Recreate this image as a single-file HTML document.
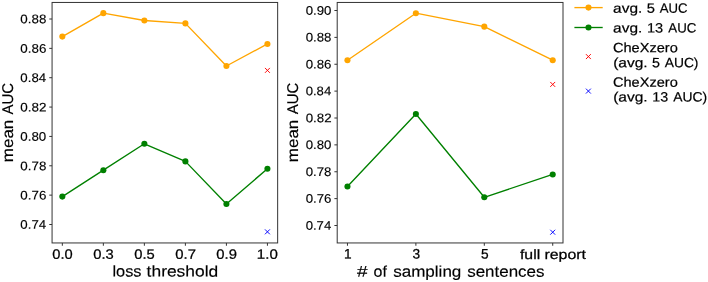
<!DOCTYPE html>
<html>
<head>
<meta charset="utf-8">
<title>mean AUC vs loss threshold and number of sampling sentences</title>
<style>
html, body { margin: 0; padding: 0; background: #ffffff; }
body { width: 708px; height: 282px; overflow: hidden; font-family: "Liberation Sans", sans-serif; }
svg { display: block; will-change: transform; }
svg text { stroke: #000000; text-rendering: geometricPrecision; font-family: "Liberation Sans", sans-serif; stroke: #000000; }
</style>
</head>
<body>
<svg width="708" height="282" viewBox="0 0 708 282">
<rect x="0" y="0" width="708" height="282" fill="#ffffff"/>
<rect x="52.07" y="2.45" width="225.58" height="240.5" fill="none" stroke="#333333" stroke-width="1"/>
<line x1="49.27" x2="52.07" y1="19" y2="19" stroke="#333333" stroke-width="1"/>
<text x="20.37" y="23.35" font-size="12.5" stroke-width="0.15" textLength="25.99" lengthAdjust="spacingAndGlyphs" fill="#000000" transform="rotate(0.03 20.37 23.35)">0.88</text>
<line x1="49.27" x2="52.07" y1="48.36" y2="48.36" stroke="#333333" stroke-width="1"/>
<text x="20.37" y="52.71" font-size="12.5" stroke-width="0.15" textLength="25.99" lengthAdjust="spacingAndGlyphs" fill="#000000" transform="rotate(0.03 20.37 52.71)">0.86</text>
<line x1="49.27" x2="52.07" y1="77.71" y2="77.71" stroke="#333333" stroke-width="1"/>
<text x="20.37" y="82.06" font-size="12.5" stroke-width="0.15" textLength="25.78" lengthAdjust="spacingAndGlyphs" fill="#000000" transform="rotate(0.03 20.37 82.06)">0.84</text>
<line x1="49.27" x2="52.07" y1="107.07" y2="107.07" stroke="#333333" stroke-width="1"/>
<text x="20.36" y="111.42" font-size="12.5" stroke-width="0.15" textLength="26.13" lengthAdjust="spacingAndGlyphs" fill="#000000" transform="rotate(0.03 20.36 111.42)">0.82</text>
<line x1="49.27" x2="52.07" y1="136.43" y2="136.43" stroke="#333333" stroke-width="1"/>
<text x="20.37" y="140.78" font-size="12.5" stroke-width="0.15" textLength="25.92" lengthAdjust="spacingAndGlyphs" fill="#000000" transform="rotate(0.03 20.37 140.78)">0.80</text>
<line x1="49.27" x2="52.07" y1="165.79" y2="165.79" stroke="#333333" stroke-width="1"/>
<text x="20.37" y="170.14" font-size="12.5" stroke-width="0.15" textLength="25.99" lengthAdjust="spacingAndGlyphs" fill="#000000" transform="rotate(0.03 20.37 170.14)">0.78</text>
<line x1="49.27" x2="52.07" y1="195.14" y2="195.14" stroke="#333333" stroke-width="1"/>
<text x="20.37" y="199.49" font-size="12.5" stroke-width="0.15" textLength="25.99" lengthAdjust="spacingAndGlyphs" fill="#000000" transform="rotate(0.03 20.37 199.49)">0.76</text>
<line x1="49.27" x2="52.07" y1="224.5" y2="224.5" stroke="#333333" stroke-width="1"/>
<text x="20.37" y="228.85" font-size="12.5" stroke-width="0.15" textLength="25.78" lengthAdjust="spacingAndGlyphs" fill="#000000" transform="rotate(0.03 20.37 228.85)">0.74</text>
<line x1="62.33" x2="62.33" y1="242.95" y2="245.75" stroke="#333333" stroke-width="1"/>
<text x="52.29" y="258.7" font-size="13.5" stroke-width="0.25" textLength="20.4" lengthAdjust="spacingAndGlyphs" fill="#000000" transform="rotate(0.03 52.29 258.7)">0.0</text>
<line x1="103.35" x2="103.35" y1="242.95" y2="245.75" stroke="#333333" stroke-width="1"/>
<text x="93.31" y="258.7" font-size="13.5" stroke-width="0.25" textLength="20.48" lengthAdjust="spacingAndGlyphs" fill="#000000" transform="rotate(0.03 93.31 258.7)">0.3</text>
<line x1="144.37" x2="144.37" y1="242.95" y2="245.75" stroke="#333333" stroke-width="1"/>
<text x="134.33" y="258.7" font-size="13.5" stroke-width="0.25" textLength="20.48" lengthAdjust="spacingAndGlyphs" fill="#000000" transform="rotate(0.03 134.33 258.7)">0.5</text>
<line x1="185.39" x2="185.39" y1="242.95" y2="245.75" stroke="#333333" stroke-width="1"/>
<text x="175.35" y="258.7" font-size="13.5" stroke-width="0.25" textLength="20.64" lengthAdjust="spacingAndGlyphs" fill="#000000" transform="rotate(0.03 175.35 258.7)">0.7</text>
<line x1="226.41" x2="226.41" y1="242.95" y2="245.75" stroke="#333333" stroke-width="1"/>
<text x="216.37" y="258.7" font-size="13.5" stroke-width="0.25" textLength="20.56" lengthAdjust="spacingAndGlyphs" fill="#000000" transform="rotate(0.03 216.37 258.7)">0.9</text>
<line x1="267.43" x2="267.43" y1="242.95" y2="245.75" stroke="#333333" stroke-width="1"/>
<text x="256.85" y="258.7" font-size="13.5" stroke-width="0.25" textLength="20.96" lengthAdjust="spacingAndGlyphs" fill="#000000" transform="rotate(0.03 256.85 258.7)">1.0</text>
<text x="112.44" y="276.6" font-size="15.6" stroke-width="0.15" textLength="29" lengthAdjust="spacingAndGlyphs" fill="#000000" transform="rotate(0.03 112.44 276.6)">loss</text>
<text x="146.64" y="276.6" font-size="15.6" stroke-width="0.15" textLength="71.59" lengthAdjust="spacingAndGlyphs" fill="#000000" transform="rotate(0.03 146.64 276.6)">threshold</text>
<text x="13.4" y="162.21" font-size="15.6" stroke-width="0.15" textLength="42.54" lengthAdjust="spacingAndGlyphs" fill="#000000" transform="rotate(-90 13.4 162.21)">mean</text>
<text x="13.4" y="114.4" font-size="15.6" stroke-width="0.15" textLength="31.54" lengthAdjust="spacingAndGlyphs" fill="#000000" transform="rotate(-90 13.4 114.4)">AUC</text>
<polyline points="62.33,36.61 103.35,13.13 144.37,20.47 185.39,23.4 226.41,65.97 267.43,43.95" fill="none" stroke="#ffa500" stroke-width="1.35" stroke-linejoin="round"/>
<circle cx="62.33" cy="36.61" r="3.05" fill="#ffa500"/>
<circle cx="103.35" cy="13.13" r="3.05" fill="#ffa500"/>
<circle cx="144.37" cy="20.47" r="3.05" fill="#ffa500"/>
<circle cx="185.39" cy="23.4" r="3.05" fill="#ffa500"/>
<circle cx="226.41" cy="65.97" r="3.05" fill="#ffa500"/>
<circle cx="267.43" cy="43.95" r="3.05" fill="#ffa500"/>
<polyline points="62.33,196.61 103.35,170.19 144.37,143.77 185.39,161.38 226.41,203.95 267.43,168.72" fill="none" stroke="#008000" stroke-width="1.35" stroke-linejoin="round"/>
<circle cx="62.33" cy="196.61" r="3.05" fill="#008000"/>
<circle cx="103.35" cy="170.19" r="3.05" fill="#008000"/>
<circle cx="144.37" cy="143.77" r="3.05" fill="#008000"/>
<circle cx="185.39" cy="161.38" r="3.05" fill="#008000"/>
<circle cx="226.41" cy="203.95" r="3.05" fill="#008000"/>
<circle cx="267.43" cy="168.72" r="3.05" fill="#008000"/>
<path d="M264.98 67.93L269.88 72.83M264.98 72.83L269.88 67.93" stroke="#ff0000" stroke-width="0.95" fill="none"/>
<path d="M264.98 229.39L269.88 234.29M264.98 234.29L269.88 229.39" stroke="#0000ff" stroke-width="0.95" fill="none"/>
<rect x="337.2" y="2.45" width="225.8" height="240.5" fill="none" stroke="#333333" stroke-width="1"/>
<line x1="334.4" x2="337.2" y1="10.5" y2="10.5" stroke="#333333" stroke-width="1"/>
<text x="305.67" y="14.7" font-size="12.5" stroke-width="0.15" textLength="25.71" lengthAdjust="spacingAndGlyphs" fill="#000000" transform="rotate(0.03 305.67 14.7)">0.90</text>
<line x1="334.4" x2="337.2" y1="37.38" y2="37.38" stroke="#333333" stroke-width="1"/>
<text x="305.67" y="41.58" font-size="12.5" stroke-width="0.15" textLength="25.78" lengthAdjust="spacingAndGlyphs" fill="#000000" transform="rotate(0.03 305.67 41.58)">0.88</text>
<line x1="334.4" x2="337.2" y1="64.25" y2="64.25" stroke="#333333" stroke-width="1"/>
<text x="305.67" y="68.45" font-size="12.5" stroke-width="0.15" textLength="25.78" lengthAdjust="spacingAndGlyphs" fill="#000000" transform="rotate(0.03 305.67 68.45)">0.86</text>
<line x1="334.4" x2="337.2" y1="91.12" y2="91.12" stroke="#333333" stroke-width="1"/>
<text x="305.67" y="95.32" font-size="12.5" stroke-width="0.15" textLength="25.57" lengthAdjust="spacingAndGlyphs" fill="#000000" transform="rotate(0.03 305.67 95.32)">0.84</text>
<line x1="334.4" x2="337.2" y1="118" y2="118" stroke="#333333" stroke-width="1"/>
<text x="305.67" y="122.2" font-size="12.5" stroke-width="0.15" textLength="25.92" lengthAdjust="spacingAndGlyphs" fill="#000000" transform="rotate(0.03 305.67 122.2)">0.82</text>
<line x1="334.4" x2="337.2" y1="144.87" y2="144.87" stroke="#333333" stroke-width="1"/>
<text x="305.67" y="149.07" font-size="12.5" stroke-width="0.15" textLength="25.71" lengthAdjust="spacingAndGlyphs" fill="#000000" transform="rotate(0.03 305.67 149.07)">0.80</text>
<line x1="334.4" x2="337.2" y1="171.75" y2="171.75" stroke="#333333" stroke-width="1"/>
<text x="305.67" y="175.95" font-size="12.5" stroke-width="0.15" textLength="25.78" lengthAdjust="spacingAndGlyphs" fill="#000000" transform="rotate(0.03 305.67 175.95)">0.78</text>
<line x1="334.4" x2="337.2" y1="198.62" y2="198.62" stroke="#333333" stroke-width="1"/>
<text x="305.67" y="202.82" font-size="12.5" stroke-width="0.15" textLength="25.78" lengthAdjust="spacingAndGlyphs" fill="#000000" transform="rotate(0.03 305.67 202.82)">0.76</text>
<line x1="334.4" x2="337.2" y1="225.5" y2="225.5" stroke="#333333" stroke-width="1"/>
<text x="305.67" y="229.7" font-size="12.5" stroke-width="0.15" textLength="25.57" lengthAdjust="spacingAndGlyphs" fill="#000000" transform="rotate(0.03 305.67 229.7)">0.74</text>
<line x1="347.46" x2="347.46" y1="242.95" y2="245.75" stroke="#333333" stroke-width="1"/>
<text x="347.86" y="258.55" font-size="13.7" text-anchor="middle" stroke-width="0.25" fill="#000000" transform="rotate(0.03 347.46 259)">1</text>
<line x1="415.88" x2="415.88" y1="242.95" y2="245.75" stroke="#333333" stroke-width="1"/>
<text x="416.28" y="258.55" font-size="13.7" text-anchor="middle" stroke-width="0.25" fill="#000000" transform="rotate(0.03 415.88 259)">3</text>
<line x1="484.3" x2="484.3" y1="242.95" y2="245.75" stroke="#333333" stroke-width="1"/>
<text x="484.7" y="258.55" font-size="13.7" text-anchor="middle" stroke-width="0.25" fill="#000000" transform="rotate(0.03 484.3 259)">5</text>
<line x1="552.72" x2="552.72" y1="242.95" y2="245.75" stroke="#333333" stroke-width="1"/>
<text x="519.96" y="258.9" font-size="13.5" stroke-width="0.25" textLength="20.22" lengthAdjust="spacingAndGlyphs" fill="#000000" transform="rotate(0.03 519.96 258.9)">full</text>
<text x="544.47" y="258.9" font-size="13.5" stroke-width="0.25" textLength="41.55" lengthAdjust="spacingAndGlyphs" fill="#000000" transform="rotate(0.03 544.47 258.9)">report</text>
<text x="357" y="276.7" font-size="15.6" stroke-width="0.15" textLength="10.61" lengthAdjust="spacingAndGlyphs" fill="#000000" transform="rotate(0.03 357 276.7)">#</text>
<text x="373.56" y="276.7" font-size="15.6" stroke-width="0.15" textLength="13.32" lengthAdjust="spacingAndGlyphs" fill="#000000" transform="rotate(0.03 373.56 276.7)">of</text>
<text x="393.17" y="276.7" font-size="15.6" stroke-width="0.15" textLength="68.18" lengthAdjust="spacingAndGlyphs" fill="#000000" transform="rotate(0.03 393.17 276.7)">sampling</text>
<text x="467.18" y="276.7" font-size="15.6" stroke-width="0.15" textLength="77.29" lengthAdjust="spacingAndGlyphs" fill="#000000" transform="rotate(0.03 467.18 276.7)">sentences</text>
<text x="298.35" y="162.21" font-size="15.6" stroke-width="0.15" textLength="42.54" lengthAdjust="spacingAndGlyphs" fill="#000000" transform="rotate(-90 298.35 162.21)">mean</text>
<text x="298.35" y="114.3" font-size="15.6" stroke-width="0.15" textLength="31.54" lengthAdjust="spacingAndGlyphs" fill="#000000" transform="rotate(-90 298.35 114.3)">AUC</text>
<polyline points="347.46,60.22 415.88,13.19 484.3,26.63 552.72,60.22" fill="none" stroke="#ffa500" stroke-width="1.35" stroke-linejoin="round"/>
<circle cx="347.46" cy="60.22" r="3.05" fill="#ffa500"/>
<circle cx="415.88" cy="13.19" r="3.05" fill="#ffa500"/>
<circle cx="484.3" cy="26.63" r="3.05" fill="#ffa500"/>
<circle cx="552.72" cy="60.22" r="3.05" fill="#ffa500"/>
<polyline points="347.46,186.53 415.88,113.97 484.3,197.28 552.72,174.44" fill="none" stroke="#008000" stroke-width="1.35" stroke-linejoin="round"/>
<circle cx="347.46" cy="186.53" r="3.05" fill="#008000"/>
<circle cx="415.88" cy="113.97" r="3.05" fill="#008000"/>
<circle cx="484.3" cy="197.28" r="3.05" fill="#008000"/>
<circle cx="552.72" cy="174.44" r="3.05" fill="#008000"/>
<path d="M550.27 81.96L555.17 86.86M550.27 86.86L555.17 81.96" stroke="#ff0000" stroke-width="0.95" fill="none"/>
<path d="M550.27 229.77L555.17 234.67M550.27 234.67L555.17 229.77" stroke="#0000ff" stroke-width="0.95" fill="none"/>
<line x1="574.4" x2="602.7" y1="7.6" y2="7.6" stroke="#ffa500" stroke-width="1.35"/>
<circle cx="588.5" cy="7.6" r="3.05" fill="#ffa500"/>
<text x="613.08" y="12.8" font-size="13.51" stroke-width="0.2" textLength="29.21" lengthAdjust="spacingAndGlyphs" fill="#000000" transform="rotate(0.03 613.08 12.8)">avg.</text>
<text x="646.81" y="12.8" font-size="13.51" stroke-width="0.2" textLength="8.2" lengthAdjust="spacingAndGlyphs" fill="#000000" transform="rotate(0.03 646.81 12.8)">5</text>
<text x="659.8" y="12.8" font-size="13.51" stroke-width="0.2" textLength="27.78" lengthAdjust="spacingAndGlyphs" fill="#000000" transform="rotate(0.03 659.8 12.8)">AUC</text>
<line x1="574.4" x2="602.7" y1="27.5" y2="27.5" stroke="#008000" stroke-width="1.35"/>
<circle cx="588.5" cy="27.5" r="3.05" fill="#008000"/>
<text x="613.08" y="32.6" font-size="13.51" stroke-width="0.2" textLength="29.21" lengthAdjust="spacingAndGlyphs" fill="#000000" transform="rotate(0.03 613.08 32.6)">avg.</text>
<text x="647.01" y="32.6" font-size="13.51" stroke-width="0.2" textLength="16.21" lengthAdjust="spacingAndGlyphs" fill="#000000" transform="rotate(0.03 647.01 32.6)">13</text>
<text x="668.3" y="32.6" font-size="13.51" stroke-width="0.2" textLength="28.08" lengthAdjust="spacingAndGlyphs" fill="#000000" transform="rotate(0.03 668.3 32.6)">AUC</text>
<path d="M585.95 54.15L590.85 59.05M585.95 59.05L590.85 54.15" stroke="#ff0000" stroke-width="0.95" fill="none"/>
<text x="612.97" y="52.3" font-size="13.51" stroke-width="0.2" textLength="64.84" lengthAdjust="spacingAndGlyphs" fill="#000000" transform="rotate(0.03 612.97 52.3)">CheXzero</text>
<text x="613.17" y="67.2" font-size="13.51" stroke-width="0.2" textLength="34.5" lengthAdjust="spacingAndGlyphs" fill="#000000" transform="rotate(0.03 613.17 67.2)">(avg.</text>
<text x="652.13" y="67.2" font-size="13.51" stroke-width="0.2" textLength="7.96" lengthAdjust="spacingAndGlyphs" fill="#000000" transform="rotate(0.03 652.13 67.2)">5</text>
<text x="664.7" y="67.2" font-size="13.51" stroke-width="0.2" textLength="33.79" lengthAdjust="spacingAndGlyphs" fill="#000000" transform="rotate(0.03 664.7 67.2)">AUC)</text>
<path d="M585.95 88.65L590.85 93.55M585.95 93.55L590.85 88.65" stroke="#0000ff" stroke-width="0.95" fill="none"/>
<text x="612.97" y="86.7" font-size="13.51" stroke-width="0.2" textLength="64.84" lengthAdjust="spacingAndGlyphs" fill="#000000" transform="rotate(0.03 612.97 86.7)">CheXzero</text>
<text x="613.17" y="101.5" font-size="13.51" stroke-width="0.2" textLength="34.5" lengthAdjust="spacingAndGlyphs" fill="#000000" transform="rotate(0.03 613.17 101.5)">(avg.</text>
<text x="652.33" y="101.5" font-size="13.51" stroke-width="0.2" textLength="15.87" lengthAdjust="spacingAndGlyphs" fill="#000000" transform="rotate(0.03 652.33 101.5)">13</text>
<text x="673.2" y="101.5" font-size="13.51" stroke-width="0.2" textLength="33.89" lengthAdjust="spacingAndGlyphs" fill="#000000" transform="rotate(0.03 673.2 101.5)">AUC)</text>
</svg>
</body>
</html>
